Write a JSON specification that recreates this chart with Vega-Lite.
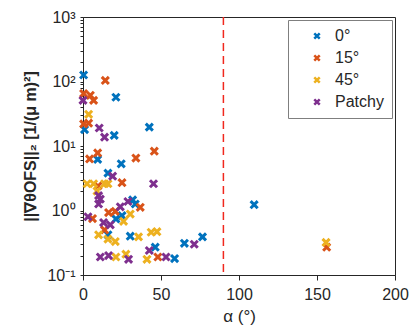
{
  "$schema": "https://vega.github.io/schema/vega-lite/v6.json",
  "width": 312,
  "height": 258,
  "autosize": {"type": "none"},
  "padding": {"left": 83, "top": 17, "right": 16, "bottom": 59},
  "background": "white",
  "config": {
    "font": "Liberation Sans",
    "view": {"stroke": "#262626", "strokeWidth": 1},
    "axis": {"grid": false, "labelFlush": false, "domainColor": "#262626", "tickColor": "#262626", "labelColor": "#262626", "titleColor": "#262626", "labelFont": "Liberation Sans", "titleFont": "Liberation Sans"}
  },
  "datasets": {
    "pts": [
      {"a": 0.4, "v": 126, "g": "0°"},
      {"a": 21.1, "v": 57, "g": "0°"},
      {"a": 1, "v": 18, "g": "0°"},
      {"a": 20, "v": 14.6, "g": "0°"},
      {"a": 42.5, "v": 19.6, "g": "0°"},
      {"a": 9.4, "v": 6.2, "g": "0°"},
      {"a": 24.5, "v": 5.3, "g": "0°"},
      {"a": 16, "v": 3.8, "g": "0°"},
      {"a": 31.8, "v": 1.46, "g": "0°"},
      {"a": 33.5, "v": 1.26, "g": "0°"},
      {"a": 25, "v": 0.83, "g": "0°"},
      {"a": 21.1, "v": 0.74, "g": "0°"},
      {"a": 16, "v": 0.42, "g": "0°"},
      {"a": 30.3, "v": 0.4, "g": "0°"},
      {"a": 46.3, "v": 0.27, "g": "0°"},
      {"a": 58.7, "v": 0.18, "g": "0°"},
      {"a": 109.7, "v": 1.23, "g": "0°"},
      {"a": 65, "v": 0.31, "g": "0°"},
      {"a": 76.6, "v": 0.39, "g": "0°"},
      {"a": 14.3, "v": 104, "g": "15°"},
      {"a": 0.4, "v": 65, "g": "15°"},
      {"a": 4.7, "v": 61, "g": "15°"},
      {"a": 6.8, "v": 51, "g": "15°"},
      {"a": 3.6, "v": 22.6, "g": "15°"},
      {"a": 0.4, "v": 22, "g": "15°"},
      {"a": 9.4, "v": 7.8, "g": "15°"},
      {"a": 45.7, "v": 8.3, "g": "15°"},
      {"a": 4.2, "v": 6.3, "g": "15°"},
      {"a": 33.9, "v": 6.5, "g": "15°"},
      {"a": 9.6, "v": 2.4, "g": "15°"},
      {"a": 25, "v": 2.7, "g": "15°"},
      {"a": 16.4, "v": 0.93, "g": "15°"},
      {"a": 20.7, "v": 0.97, "g": "15°"},
      {"a": 6.1, "v": 0.75, "g": "15°"},
      {"a": 13.8, "v": 0.5, "g": "15°"},
      {"a": 48, "v": 0.19, "g": "15°"},
      {"a": 36.7, "v": 1.12, "g": "15°"},
      {"a": 156.2, "v": 0.27, "g": "15°"},
      {"a": 3.6, "v": 31, "g": "45°"},
      {"a": 2.6, "v": 2.6, "g": "45°"},
      {"a": 6.8, "v": 2.6, "g": "45°"},
      {"a": 13.8, "v": 2.6, "g": "45°"},
      {"a": 16, "v": 2.6, "g": "45°"},
      {"a": 9, "v": 2.0, "g": "45°"},
      {"a": 30.3, "v": 0.88, "g": "45°"},
      {"a": 26, "v": 0.68, "g": "45°"},
      {"a": 10, "v": 0.42, "g": "45°"},
      {"a": 16, "v": 0.36, "g": "45°"},
      {"a": 20.7, "v": 0.33, "g": "45°"},
      {"a": 43.7, "v": 0.46, "g": "45°"},
      {"a": 47.4, "v": 0.47, "g": "45°"},
      {"a": 21.1, "v": 0.19, "g": "45°"},
      {"a": 27.5, "v": 0.21, "g": "45°"},
      {"a": 41, "v": 0.175, "g": "45°"},
      {"a": 35.6, "v": 0.39, "g": "45°"},
      {"a": 155.8, "v": 0.32, "g": "45°"},
      {"a": 0, "v": 51, "g": "Patchy"},
      {"a": 10.4, "v": 19, "g": "Patchy"},
      {"a": 13.8, "v": 13.7, "g": "Patchy"},
      {"a": 19, "v": 3.4, "g": "Patchy"},
      {"a": 45.2, "v": 2.6, "g": "Patchy"},
      {"a": 10, "v": 1.7, "g": "Patchy"},
      {"a": 11.1, "v": 1.5, "g": "Patchy"},
      {"a": 10, "v": 1.26, "g": "Patchy"},
      {"a": 28.8, "v": 1.38, "g": "Patchy"},
      {"a": 23.9, "v": 1.14, "g": "Patchy"},
      {"a": 3.2, "v": 0.8, "g": "Patchy"},
      {"a": 13.2, "v": 0.65, "g": "Patchy"},
      {"a": 17.5, "v": 0.6, "g": "Patchy"},
      {"a": 42.5, "v": 0.24, "g": "Patchy"},
      {"a": 53.2, "v": 0.19, "g": "Patchy"},
      {"a": 11.1, "v": 0.19, "g": "Patchy"},
      {"a": 16.4, "v": 0.2, "g": "Patchy"},
      {"a": 29.2, "v": 0.175, "g": "Patchy"},
      {"a": 71.3, "v": 0.3, "g": "Patchy"}
    ],
    "vline": [{"a": 90}]
  },
  "layer": [
    {
      "data": {"name": "vline"},
      "mark": {"type": "rule", "color": "#F0281E", "strokeWidth": 1.5, "strokeDash": [8, 5]},
      "encoding": {"x": {"field": "a", "type": "quantitative"}}
    },
    {
      "data": {"name": "pts"},
      "mark": {"type": "point", "shape": "M-1,-1L1,1M1,-1L-1,1", "filled": false, "strokeWidth": 3, "size": 50, "opacity": 1},
      "encoding": {
        "x": {
          "field": "a", "type": "quantitative",
          "scale": {"domain": [0, 200], "nice": false},
          "axis": {"values": [0, 50, 100, 150, 200], "title": "α (°)", "labelFontSize": 16, "titleFontSize": 17, "titleFontWeight": "normal", "tickSize": 5, "labelPadding": 6, "titlePadding": 6}
        },
        "y": {
          "field": "v", "type": "quantitative",
          "scale": {"type": "log", "domain": [0.1, 1000], "nice": false},
          "axis": {
            "values": [0.1, 0.2, 0.3, 0.4, 0.5, 0.6, 0.7, 0.8, 0.9, 1, 2, 3, 4, 5, 6, 7, 8, 9, 10, 20, 30, 40, 50, 60, 70, 80, 90, 100, 200, 300, 400, 500, 600, 700, 800, 900, 1000],
            "labelExpr": "datum.value == 1000 ? '10³' : datum.value == 100 ? '10²' : datum.value == 10 ? '10¹' : datum.value == 1 ? '10⁰' : datum.value == 0.1 ? '10⁻¹' : ''",
            "title": "||∇θOFS||₂ [1/(μ m)²]", "labelFontSize": 16, "titleFontSize": 16, "titleFontWeight": "bold", "tickSize": 3, "labelPadding": 5, "titlePadding": 8, "labelOverlap": false
          }
        },
        "color": {
          "field": "g", "type": "nominal",
          "scale": {"domain": ["0°", "15°", "45°", "Patchy"], "range": ["#0072BD", "#D95319", "#EDB120", "#7E2F8E"]},
          "legend": {
            "title": null, "orient": "top-right", "offset": 3, "padding": 8,
            "strokeColor": "#7f7f7f", "fillColor": "white",
            "symbolType": "M-1,-1L1,1M1,-1L-1,1", "symbolSize": 30, "symbolStrokeWidth": 2.5,
            "labelFontSize": 16, "labelColor": "#262626", "rowPadding": 6, "symbolOffset": 13, "labelOffset": 10
          }
        }
      }
    }
  ]
}
